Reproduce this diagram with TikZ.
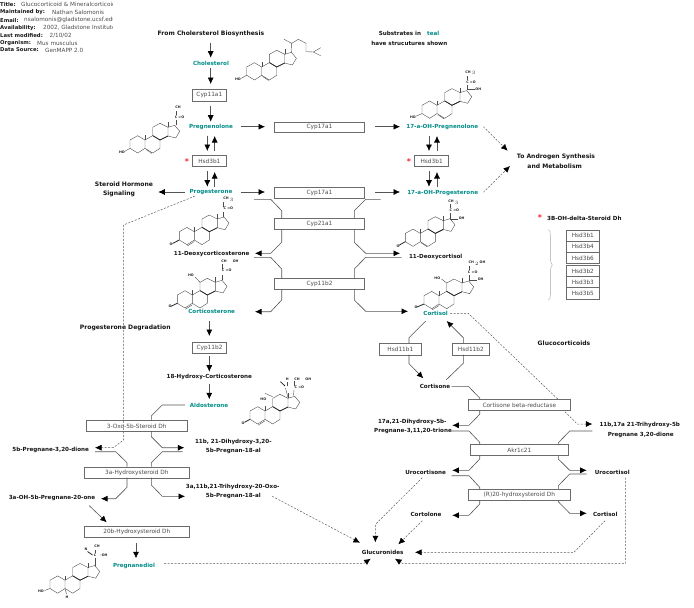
\documentclass[tikz,border=0pt]{standalone}
\usepackage{fontspec}
\setmainfont{DejaVu Sans}
\usetikzlibrary{arrows.meta}
\definecolor{tealname}{RGB}{0,140,135}
\definecolor{boxline}{gray}{0.42}
\definecolor{railline}{gray}{0.33}
\definecolor{boxtext}{gray}{0.3}
\tikzset{
  x=1pt,y=-1pt,
  enzyme/.style={draw=boxline,line width=0.7pt,fill=white,text=boxtext,inner sep=0pt,anchor=north west,font=\fontsize{5.8}{6}\selectfont,align=center},
  lbl/.style={inner sep=0pt,font=\fontsize{5.6}{6}\selectfont\bfseries,text=black!92},
  headline/.style={inner sep=0pt,font=\fontsize{6.05}{6}\selectfont\bfseries,text=black!92},
  substrate/.style={lbl,text=tealname},
  header/.style={inner sep=0pt,anchor=west,font=\fontsize{5.7}{6}\selectfont,text=black!70},
  headerkey/.style={inner sep=0pt,anchor=west,font=\fontsize{5.3}{6}\selectfont\bfseries,text=black!90},
  atomlbl/.style={inner sep=0pt,font=\fontsize{3.4}{4}\selectfont\bfseries,text=black!85},
  redstar/.style={inner sep=0pt,font=\fontsize{8}{8}\selectfont\bfseries,text=red!85},
  rail/.style={draw=railline,line width=0.6pt,line join=round},
  reaction/.style={rail,-{Latex[length=6.5pt,width=6pt,black]}},
  dashflow/.style={draw=black!65,line width=0.5pt,dash pattern=on 2pt off 1.5pt,-{Latex[length=6.5pt,width=6pt,black]}},
  dashline/.style={draw=black!65,line width=0.5pt,dash pattern=on 2pt off 1.5pt},
  bond/.style={draw=black!70,line width=0.4pt},
  wedge/.style={draw=black!85,line width=0.8pt},
}
\newcount\atomno
% small atom symbol on a structure formula
\newcommand{\atom}[3]{\global\advance\atomno by 1 \node[atomlbl] (atom\the\atomno) at (#1,#2) {#3};}
% enzyme box from its corner and its size
\newcommand{\enz}[6]{\node[enzyme,minimum width=#4pt,minimum height=#5pt] (#1) at (#2,#3) {#6};}
% four-ring steroid skeleton placed by carbon 3; second macro adds the 5,6 double bond
\newcommand{\skeleton}[2]{%
  \begin{scope}[shift={(#1,#2)}]
    \draw[bond] (0,0) -- (0,-8.3) -- (7.7,-12.6) -- (15,-8.3) -- (15,0) -- (7.7,4.7) -- cycle;
    \draw[bond] (15,-8.3) -- (22.7,-12.7) -- (30,-8.3) -- (30,0) -- (22.7,4.7) -- (15,0);
    \draw[bond] (22.7,-12.7) -- (22.7,-21) -- (30,-25) -- (38,-21) -- (38,-12.3) -- (30,-8.3);
    \draw[bond] (38,-21) -- (44.7,-23) -- (49.7,-17) -- (45.7,-10.3) -- (38,-12.3);
    \draw[wedge] (22.7,-12.7) -- (30,-8.3) -- (38,-12.3);
    \draw[bond] (15,-8.3) -- (15,-13);
    \draw[bond] (38,-21) -- (38,-26);
  \end{scope}}
\newcommand{\fivesix}[2]{\draw[bond] (#1+16,#2+1.2) -- (#1+22,#2+5.2);}
\newcommand{\fourfive}[2]{\draw[bond] (#1+8,#2+6) -- (#1+15,#2+1.5);}
\begin{document}
\begin{tikzpicture}
\useasboundingbox (0,0) rectangle (694,608);

% document information block
\begin{scope}
  \clip (0,0) rectangle (112,60);
  \node[headerkey] (kTitle) at (0,4.7) {Title:};
  \node[header] (vTitle) at (21,4.7) {Glucocorticoid \& Mineralcorticoid};
  \node[headerkey] (kMaint) at (0,12.4) {Maintained by:};
  \node[header] (vMaint) at (52,12.4) {Nathan Salomonis};
  \node[headerkey] (kMail) at (0,20.2) {Email:};
  \node[header] (vMail) at (24,20.2) {nsalomonis@gladstone.ucsf.edu};
  \node[headerkey] (kAvail) at (0,28) {Availability:};
  \node[header] (vAvail) at (43,28) {2002, Gladstone Institute};
  \node[headerkey] (kMod) at (0,35.4) {Last modified:};
  \node[header] (vMod) at (49.5,35.4) {2/10/02};
  \node[headerkey] (kOrg) at (0,43.2) {Organism:};
  \node[header] (vOrg) at (37,43.2) {Mus musculus};
  \node[headerkey] (kSrc) at (0,50) {Data Source:};
  \node[header] (vSrc) at (45,50) {GenMAPP 2.0};
\end{scope}

% free-standing labels
\node[headline] (fromChol) at (211,33.5) {From Cholersterol Biosynthesis};
\node[lbl] (subsA) at (400,33.3) {Substrates in};
\node[substrate] (subsB) at (433.3,33.3) {teal};
\node[lbl] (subsC) at (409.3,43) {have strucutures shown};
\node[headline] (steroidA) at (124,184.7) {Steroid Hormone};
\node[headline] (steroidB) at (119,194) {Signaling};
\node[headline] (androA) at (556,156.7) {To Androgen Synthesis};
\node[headline] (androB) at (554.7,165.8) {and Metabolism};
\node[headline] (progDeg) at (125.3,328.3) {Progesterone Degradation};
\node[headline] (glucoc) at (564,343.3) {Glucocorticoids};
\node[lbl] (legend) at (584.3,218.3) {3B-OH-delta-Steroid Dh};
\node[redstar] (starLegend) at (540,217.5) {*};
\node[redstar] (starA) at (187,161.5) {*};
\node[redstar] (starB) at (409,161.5) {*};

% substrates
\node[substrate] (chol) at (211,63.5) {Cholesterol};
\node[substrate] (preg) at (211,127) {Pregnenolone};
\node[substrate] (prog) at (211,192.3) {Progesterone};
\node[substrate] (ohpreg) at (442.3,127) {17-a-OH-Pregnenolone};
\node[substrate] (ohprog) at (442.7,192.7) {17-a-OH-Progesterone};
\node[lbl] (doc) at (211.7,254) {11-Deoxycorticosterone};
\node[substrate] (cortico) at (211.7,311.7) {Corticosterone};
\node[lbl] (hydroxy) at (209.3,377.3) {18-Hydroxy-Corticosterone};
\node[substrate] (aldo) at (209,405) {Aldosterone};
\node[lbl] (doxol) at (435.7,257) {11-Deoxycortisol};
\node[substrate] (cortisol) at (435.7,313.3) {Cortisol};
\node[lbl] (cortisone) at (435,386) {Cortisone};
\node[lbl] (dihA) at (233.3,442) {11b, 21-Dihydroxy-3,20-};
\node[lbl] (dihB) at (233.3,451.3) {5b-Pregnan-18-al};
\node[lbl] (pdione) at (50.7,450) {5b-Pregnane-3,20-dione};
\node[lbl] (pone) at (52,498) {3a-OH-5b-Pregnane-20-one};
\node[lbl] (triA) at (232.7,487) {3a,11b,21-Trihydroxy-20-Oxo-};
\node[lbl] (triB) at (233.3,496.3) {5b-Pregnan-18-al};
\node[substrate] (pdiol) at (134,566.3) {Pregnanediol};
\node[lbl] (dhpA) at (412.3,422) {17a,21-Dihydroxy-5b-};
\node[lbl] (dhpB) at (413,431) {Pregnane-3,11,20-trione};
\node[lbl] (thpA) at (639.7,425.3) {11b,17a 21-Trihydroxy-5b};
\node[lbl] (thpB) at (640.7,434.7) {Pregnane 3,20-dione};
\node[lbl] (uroone) at (425.7,472) {Urocortisone};
\node[lbl] (urool) at (612.3,472) {Urocortisol};
\node[lbl] (cortolone) at (426,514.7) {Cortolone};
\node[lbl] (cortisolB) at (605.3,514.7) {Cortisol};
\node[lbl] (gluc) at (382.7,552.3) {Glucuronides};

% enzymes
\enz{cypEleven}{192.3}{89.3}{33.4}{11.4}{Cyp11a1}
\enz{hsdA}{192.3}{155}{33.4}{11}{Hsd3b1}
\enz{cypSevenA}{274.3}{121.7}{89.7}{10.6}{Cyp17a1}
\enz{cypSevenB}{274.3}{186.7}{89.7}{11}{Cyp17a1}
\enz{cypTwentyOne}{274.3}{218.3}{89.7}{11}{Cyp21a1}
\enz{cypElevenBwide}{274.3}{278.3}{89.7}{11}{Cyp11b2}
\enz{cypElevenB}{192.3}{341.7}{33.7}{11}{Cyp11b2}
\enz{hsdB}{414.3}{155}{34}{11}{Hsd3b1}
\enz{tblA}{565.7}{229.7}{33.6}{11}{Hsd3b1}
\enz{tblB}{565.7}{240.7}{33.6}{11.3}{Hsd3b4}
\enz{tblC}{565.7}{252}{33.6}{11}{Hsd3b6}
\enz{tblD}{565.7}{265.3}{33.6}{11}{Hsd3b2}
\enz{tblE}{565.7}{276.3}{33.6}{11}{Hsd3b3}
\enz{tblF}{565.7}{287.3}{33.6}{11.4}{Hsd3b5}
\enz{hsdElevenA}{379.3}{343.3}{41.4}{11.4}{Hsd11b1}
\enz{hsdElevenB}{451.7}{343.3}{37.6}{11.4}{Hsd11b2}
\enz{betaRed}{468.3}{399.3}{101.4}{11}{Cortisone beta-reductase}
\enz{akr}{470.3}{444.3}{97.4}{11}{Akr1c21}
\enz{rtwenty}{468.3}{489}{101.4}{11}{(R)20-hydroxysteroid Dh}
\enz{oxo}{86}{420}{100.7}{11}{3-Oxo-5b-Steroid Dh}
\enz{threeA}{84.3}{466.7}{104.4}{11}{3a-Hydroxysteroid Dh}
\enz{twentyB}{84.3}{526.3}{104.4}{11}{20b-Hydroxysteroid Dh}

% endpoints of the straight reactions
\coordinate (aFromIn) at (210.7,42.7);  \coordinate (aFromOut) at (210.7,57.7);
\coordinate (aCholIn) at (210.7,68.3);  \coordinate (aCholOut) at (210.7,84);
\coordinate (aCypIn) at (210.7,106);    \coordinate (aCypOut) at (210.7,121.7);

% upper steps of the pathway
\draw[reaction] (aFromIn) -- (aFromOut);
\draw[reaction] (aCholIn) -- (aCholOut);
\draw[reaction] (aCypIn) -- (aCypOut);
\draw[reaction] (240.7,126.7) -- (265,126.7);
\draw[reaction] (375,126.7) -- (400,126.7);
\draw[reaction] (207.3,135.7) -- (207.3,151);
\draw[reaction] (214.7,151) -- (214.7,136);
\draw[reaction] (207.3,171.3) -- (207.3,186.7);
\draw[reaction] (214.7,186.7) -- (214.7,172);
\draw[reaction] (185,192) -- (158.3,192);
\draw[reaction] (240.7,192) -- (265,192);
\draw[reaction] (375,192) -- (400,192);
\draw[reaction] (429,135.7) -- (429,151);
\draw[reaction] (437,151) -- (437,136);
\draw[reaction] (429,171.3) -- (429,186.7);
\draw[reaction] (437,186.7) -- (437,172);
\draw[dashflow] (483.3,126.7) -- (507.7,150.7);
\draw[dashflow] (483.3,192.3) -- (510,166);

% Cyp21a1 and Cyp11b2 ladder
\draw[rail] (254,199.3) -- (270.7,199.3) -- (281.7,210.7) -- (281.7,218.3);
\draw[reaction] (281.7,229.3) -- (281.7,242.3) -- (270.7,253.3) -- (255,253.3);
\draw[rail] (380.7,199.3) -- (365.7,199.3) -- (354.3,210.7) -- (354.3,218.3);
\draw[reaction] (354.3,229.3) -- (354.3,242.3) -- (365.7,253.3) -- (400,253.3);
\draw[rail] (254,257.3) -- (270.7,257.3) -- (281.7,269) -- (281.7,278.3);
\draw[reaction] (281.7,289.3) -- (281.7,300) -- (270.7,311.7) -- (255,311.7);
\draw[rail] (401.7,257.3) -- (365.7,257.3) -- (354.3,269) -- (354.3,278.3);
\draw[reaction] (354.3,289.3) -- (354.3,300) -- (365.7,311.3) -- (408,311.3);

% mineralocorticoid branch
\draw[reaction] (209.3,320.7) -- (209.3,336);
\draw[reaction] (209.3,356) -- (209.3,371.7);
\draw[reaction] (209.3,384) -- (209.3,399.3);

% progesterone degradation
\draw[dashflow] (195,196) -- (123.5,225) -- (123.5,440) -- (113.3,447.7) -- (95,447.7);
\draw[rail] (185,405) -- (162.3,405) -- (151.3,416) -- (151.3,420);
\draw[reaction] (151.3,431) -- (151.3,436.7) -- (162.3,447.7) -- (184.3,447.7);
\draw[rail] (182.7,451.7) -- (162.3,451.7) -- (151.3,462.7) -- (151.3,466.7);
\draw[rail] (95,451.7) -- (115.7,451.7) -- (127,462.7) -- (127,466.7);
\draw[reaction] (127,477.7) -- (127,487.3) -- (115.7,498.7) -- (101,498.7);
\draw[reaction] (151.3,477.7) -- (151.3,485) -- (162.3,496.3) -- (185,496.3);
\draw[reaction] (89.3,505.7) -- (106.7,522.3);
\draw[reaction] (136,543.3) -- (136,558.3);
\draw[dashflow] (164,563.3) -- (364,563.3) -- (370.7,558.7);
\draw[dashflow] (272.3,496.3) -- (360,542.7);

% cortisol and cortisone interconversion
\draw[rail] (425.7,321) -- (409,337.7) -- (409,343.3);
\draw[reaction] (409,354.7) -- (409,363.7) -- (423.3,378.3);
\draw[reaction] (463.3,343.3) -- (463.3,337.7) -- (446.7,321);
\draw[rail] (446,380) -- (463.3,363.3) -- (463.3,354.7);
\draw[rail] (451.7,386.3) -- (468.3,386.3) -- (479.7,398) -- (479.7,399.3);
\draw[dashline] (450,313.3) -- (468.3,313.3) -- (558,399.3);

% glucocorticoid reduction ladder
\draw[reaction] (479.7,410.3) -- (479.7,414.3) -- (469,425.3) -- (452.3,425.3);
\draw[dashflow] (565,411.7) -- (577.3,424) -- (592.3,424);
\draw[rail] (451.7,431) -- (469,431) -- (479.7,442.3) -- (479.7,444.3);
\draw[rail] (592.3,431) -- (569.7,431) -- (558.3,442.7) -- (558.3,444.3);
\draw[reaction] (479.7,455.3) -- (479.7,459) -- (469,470.3) -- (452.3,470.3);
\draw[reaction] (558.3,455.3) -- (558.3,459) -- (569.7,470.3) -- (586.7,470.3);
\draw[rail] (451.7,475.7) -- (469,475.7) -- (479.7,487.3) -- (479.7,489);
\draw[rail] (586.7,474) -- (569.7,474) -- (558.3,485.7) -- (558.3,489);
\draw[reaction] (479.7,500) -- (479.7,504) -- (469,515.3) -- (452.3,515.3);
\draw[reaction] (558.3,500) -- (558.3,501.7) -- (569.7,513.3) -- (586.7,513.3);

% routes into the glucuronides
\draw[dashflow] (422.3,477.7) -- (375.7,524) -- (375.3,542.3);
\draw[dashflow] (422.3,520.7) -- (398.3,544.3);
\draw[dashflow] (605,520.7) -- (574,552.3) -- (415,552.3);
\draw[dashflow] (625.7,477.7) -- (625.7,563.3) -- (402.3,563.3) -- (395,558.7);

% brace beside the isoform list
\draw[draw=black!35,line width=0.4pt] (548.3,229.7) .. controls (550.3,230.5) and (550.3,232) .. (550.3,235)
  -- (550.3,260) .. controls (550.3,263) and (552.3,264) .. (552.3,265)
  .. controls (552.3,266) and (550.3,267) .. (550.3,270) -- (550.3,295)
  .. controls (550.3,298) and (550.3,299) .. (548.3,300);

% cholesterol
\skeleton{246.7}{75.3}\fivesix{246.7}{75.3}
\atom{238}{79.7}{HO}
\draw[bond] (240.8,78.5) -- (246.7,75.3);
\draw[bond] (291.4,52.3) -- (291.7,43.3) -- (284,39.3);
\draw[bond] (291.7,43.3) -- (298.3,39.3) -- (306,43.3) -- (306,51.7) -- (313.3,52) -- (320.7,47.7);
\draw[bond] (313.3,52) -- (320.7,55.7);

% pregnenolone
\skeleton{130}{148.3}\fivesix{130}{148.3}
\atom{122}{152.6}{HO}
\draw[bond] (124.5,151.5) -- (130,148.3);
\draw[bond] (175.7,125.3) -- (175.7,120);
\draw[bond] (175.7,115) -- (175.7,110.5);
\atom{179.5}{117.3}{C =O}
\atom{178}{107.7}{CH}

% 17-alpha-hydroxypregnenolone
\skeleton{422}{113.6}\fivesix{422}{113.6}
\atom{413}{117.3}{HO}
\draw[bond] (415.7,116.3) -- (422,113.6);
\draw[bond] (466.7,89.5) -- (466.7,84.5);
\draw[bond] (466.7,79.5) -- (466.7,75.5);
\draw[bond] (466.7,89.5) -- (474.5,89.5);
\atom{470.5}{72.7}{CH$_{\,3}$}
\atom{471}{82}{C =O}
\atom{478.3}{89.3}{OH}

% progesterone
\skeleton{179.3}{240}\fourfive{179.3}{240}
\draw[wedge] (172.5,243.5) -- (179.3,240);
\atom{171}{244.5}{O}
\draw[bond] (222.7,217) -- (222.7,211.7);
\draw[bond] (222.7,206.5) -- (222.7,202);
\atom{228.5}{199.3}{CH$_{\,3}$}
\atom{228.3}{208.7}{C =O}

% corticosterone
\skeleton{177.3}{303.3}\fourfive{177.3}{303.3}
\draw[wedge] (171,306.3) -- (177.3,303.3);
\atom{170}{306.7}{O}
\atom{191}{275.7}{HO}
\draw[bond] (195,277) -- (200,282.3);
\draw[bond] (222,280.3) -- (222,274.5);
\draw[bond] (222,268.5) -- (222,263.5);
\atom{226.7}{270.3}{C =O}
\atom{224}{261.3}{CH}
\atom{235.7}{261.3}{OH}

% aldosterone
\skeleton{250}{419.3}\fourfive{250}{419.3}
\draw[wedge] (244.5,422.3) -- (250,419.3);
\atom{243}{423}{O}
\atom{263.3}{399}{HO}
\draw[bond] (265,393.3) -- (272.7,396.7);
\draw[bond] (293.5,395.5) -- (294,390);
\draw[bond] (294.5,385.5) -- (294.5,381);
\draw[bond] (288,397.5) -- (285.5,388);
\draw[bond] (287.3,386) -- (287.3,382);
\draw[wedge] (285,386) -- (280.5,381.7);
\atom{287.3}{379}{H}
\atom{297}{379}{CH}
\atom{308.3}{379}{OH}
\atom{299.3}{387.5}{C =O}

% 11-deoxycortisol
\skeleton{405.3}{241.7}\fivesix{405.3}{241.7}
\draw[wedge] (399,245.3) -- (405.3,241.7);
\atom{398}{246}{O}
\draw[bond] (450,218.7) -- (450,213);
\draw[bond] (450,208.2) -- (450,204);
\draw[bond] (450,218.7) -- (458,218.7);
\atom{453.5}{202}{CH$_{\,3}$}
\atom{454.3}{210.7}{C =O}
\atom{461.7}{218.3}{OH}

% cortisol
\skeleton{424}{304}\fourfive{424}{304}
\draw[wedge] (417,307) -- (424,304);
\atom{416}{307.2}{O}
\atom{437.3}{278}{HO}
\draw[bond] (441.5,279) -- (446.7,283);
\draw[bond] (468.7,281) -- (468.7,275);
\draw[bond] (468.7,270) -- (468.7,265.5);
\draw[bond] (468.7,279.7) -- (477,279.7);
\atom{477}{263}{CH$_{\,2}$\,OH}
\atom{472.7}{272.3}{C =O}
\atom{480.7}{279.7}{OH}

% pregnanediol
\skeleton{50}{588.5}
\atom{41}{591.3}{HO}
\draw[bond] (44.5,590.5) -- (50,588.5);
\draw[bond] (65,588.5) -- (66.5,594);
\atom{67}{597}{H}
\draw[bond] (95.4,566) -- (95.4,558);
\draw[bond] (95.4,553) -- (95.4,549.5);
\draw[wedge] (87.5,551.5) -- (92.5,555);
\atom{97}{546.7}{CH}
\atom{86}{549.5}{N}
\atom{95}{555.7}{C}
\atom{104}{555.7}{-OH}
\end{tikzpicture}
\end{document}
